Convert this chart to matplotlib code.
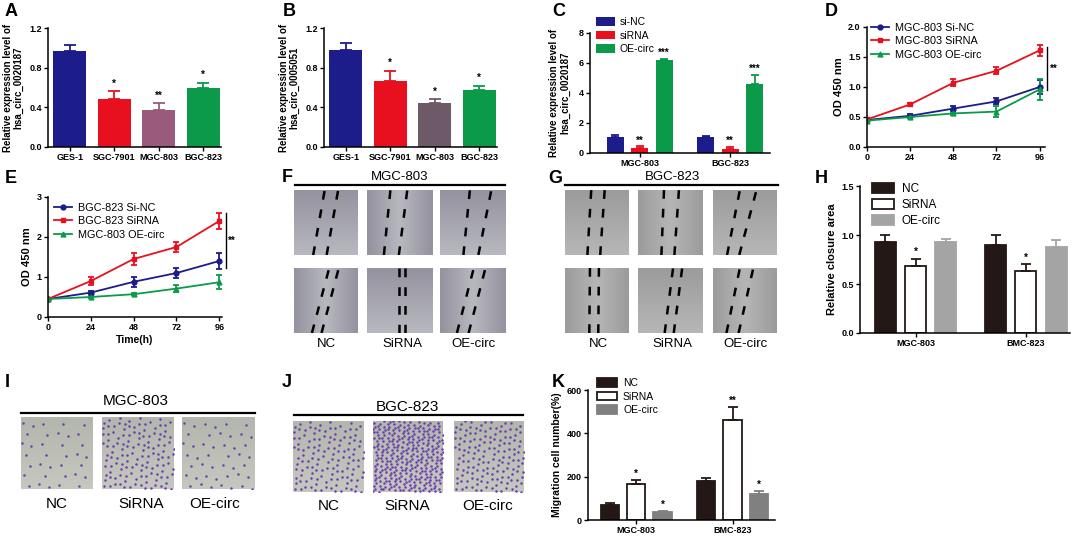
import numpy as np
import matplotlib
matplotlib.use('Agg')
import matplotlib.pyplot as plt
from matplotlib.lines import Line2D

plt.rcParams['font.family'] = ['Liberation Sans', 'DejaVu Sans']
plt.rcParams['font.weight'] = 'bold'
plt.rcParams['axes.labelweight'] = 'bold'

# %%
# Data
cell_lines = ['GES-1', 'SGC-7901', 'MGC-803', 'BGC-823']
a_vals = [0.97, 0.48, 0.37, 0.59]
a_err = [0.06, 0.08, 0.07, 0.06]
a_stars = ['', '*', '**', '*']
b_vals = [0.98, 0.67, 0.44, 0.57]
b_err = [0.07, 0.10, 0.04, 0.05]
b_stars = ['', '*', '*', '*']

c_groups = ['MGC-803', 'BGC-823']
c_series = ['si-NC', 'siRNA', 'OE-circ']
c_vals = [[1.10, 1.05], [0.35, 0.30], [6.20, 4.60]]
c_err = [[0.10, 0.08], [0.10, 0.12], [0.10, 0.60]]
c_stars = [['', ''], ['**', '**'], ['***', '***']]

hours = [0, 24, 48, 72, 96]
d_labels = ['MGC-803 Si-NC', 'MGC-803 SiRNA', 'MGC-803 OE-circ']
d_vals = [[0.45, 0.52, 0.64, 0.76, 1.00],
          [0.46, 0.71, 1.07, 1.27, 1.61],
          [0.44, 0.50, 0.56, 0.59, 0.96]]
d_err = [[0.02, 0.03, 0.04, 0.05, 0.12],
         [0.02, 0.02, 0.06, 0.06, 0.09],
         [0.02, 0.02, 0.03, 0.09, 0.18]]
e_labels = ['BGC-823 Si-NC', 'BGC-823 SiRNA', 'MGC-803 OE-circ']
e_vals = [[0.45, 0.61, 0.88, 1.10, 1.40],
          [0.45, 0.90, 1.45, 1.75, 2.40],
          [0.45, 0.50, 0.57, 0.71, 0.87]]
e_err = [[0.02, 0.03, 0.12, 0.13, 0.20],
         [0.02, 0.10, 0.15, 0.13, 0.20],
         [0.02, 0.02, 0.03, 0.08, 0.18]]

treat = ['NC', 'SiRNA', 'OE-circ']
hk_groups = ['MGC-803', 'BMC-823']
h_vals = [[0.93, 0.90], [0.68, 0.63], [0.93, 0.88]]
h_err = [[0.07, 0.10], [0.08, 0.07], [0.03, 0.07]]
h_stars = [['', ''], ['*', '*'], ['', '']]
k_vals = [[70, 178], [168, 460], [38, 118]]
k_err = [[10, 15], [15, 60], [5, 15]]
k_stars = [['', ''], ['*', '**'], ['*', '*']]

# scratch lines in wound images: (top_left, top_right, bottom_left, bottom_right) as image fractions
f_scratch = [[(0.48, 0.69, 0.30, 0.51), (0.36, 0.62, 0.26, 0.49), (0.46, 0.79, 0.36, 0.59)],
             [(0.55, 0.70, 0.28, 0.43), (0.49, 0.58, 0.49, 0.58), (0.52, 0.70, 0.26, 0.44)]]
g_scratch = [[(0.41, 0.62, 0.35, 0.55), (0.40, 0.63, 0.36, 0.56), (0.42, 0.68, 0.22, 0.41)],
             [(0.39, 0.53, 0.38, 0.52), (0.54, 0.68, 0.41, 0.55), (0.42, 0.63, 0.21, 0.40)]]
# number of stained cells drawn in transwell images
i_counts = [35, 130, 45]
j_counts = [130, 320, 150]

# %%
W, H = 1085, 536
fig = plt.figure(figsize=(W / 100, H / 100), dpi=100)

NAVY = '#1c1c8a'
RED = '#e8101e'
GREEN = '#0b9a4a'


def fx(x):
    return x / W


def fy(y):
    return 1 - y / H


def add_ax(x0, y0, x1, y1):
    return fig.add_axes([fx(x0), fy(y1), (x1 - x0) / W, (y1 - y0) / H])


def prism(ax, fs=6.5):
    for s in ['top', 'right']:
        ax.spines[s].set_visible(False)
    for s in ['left', 'bottom']:
        ax.spines[s].set_linewidth(1.1)
    ax.tick_params(direction='out', length=3, width=1, labelsize=fs, pad=1.5)


def letter(x, y, s):
    fig.text(fx(x), fy(y), s, fontsize=13, fontweight='bold', va='baseline')


def up_err(ax, x, v, e, color, lw=1.3, cap=4):
    ax.errorbar(x, v, yerr=[[0], [e]], fmt='none', ecolor=color,
                elinewidth=lw, capsize=cap, capthick=lw)


# %%
# Panels A and B
def cell_bars(box, vals, err, stars, mid_color, ylabel):
    ax = add_ax(*box)
    x = np.arange(len(vals))
    cols = [NAVY, RED, mid_color, GREEN]
    ax.bar(x, vals, width=0.75, color=cols)
    for i in x:
        up_err(ax, i, vals[i], err[i], cols[i])
        if stars[i]:
            ax.text(i, vals[i] + err[i] + 0.03, stars[i], ha='center',
                    va='bottom', fontsize=7)
    ax.set_ylim(0, 1.2)
    ax.set_yticks([0.0, 0.4, 0.8, 1.2])
    ax.set_xlim(-0.49, 3.4)
    ax.set_xticks(x)
    ax.set_xticklabels(cell_lines)
    ax.set_ylabel(ylabel, fontsize=7, labelpad=4, linespacing=1.1)
    prism(ax)
    return ax


cell_bars((48, 28, 221, 147), a_vals, a_err, a_stars, '#9a5a7c',
          'Relative expression level of\nhsa_circ_0020187')
cell_bars((324, 28, 497, 147), b_vals, b_err, b_stars, '#6d5968',
          'Relative expression level of\nhsa_circ_0005051')
letter(5, 16, 'A')
letter(283, 16, 'B')

# %%
# Panel C
axc = add_ax(590, 33, 770, 153)
c_cols = [NAVY, RED, GREEN]
gx = np.arange(len(c_groups))
for j, lab in enumerate(c_series):
    xs = gx + (j - 1) * 0.27
    axc.bar(xs, c_vals[j], width=0.19, color=c_cols[j], label=lab)
    for i in gx:
        up_err(axc, xs[i], c_vals[j][i], c_err[j][i], c_cols[j], cap=3)
        if c_stars[j][i]:
            axc.text(xs[i], c_vals[j][i] + c_err[j][i] + 0.05, c_stars[j][i],
                     ha='center', va='bottom', fontsize=7)
axc.set_ylim(0, 8)
axc.set_yticks([0, 2, 4, 6, 8])
axc.set_xlim(-0.55, 1.44)
axc.set_xticks(gx)
axc.set_xticklabels(c_groups)
axc.set_ylabel('Relative expression level of\nhsa_circ_0020187', fontsize=7,
               labelpad=6, linespacing=1.1)
prism(axc)
axc.legend(loc='upper left', bbox_to_anchor=(fx(596), fy(17)),
           bbox_transform=fig.transFigure, frameon=False,
           prop={'size': 7.5, 'weight': 'normal'}, handlelength=1.8,
           handleheight=0.9, labelspacing=0.35, handletextpad=0.5,
           borderpad=0, borderaxespad=0)
letter(552, 16, 'C')


# %%
# Panels D and E
def growth(box, vals, err, labels, ylim, yticks, xmax, brk, leg_xy):
    ax = add_ax(*box)
    cols = [NAVY, RED, GREEN]
    marks = ['o', 's', '^']
    for j in range(3):
        ax.errorbar(hours, vals[j], yerr=err[j], color=cols[j], marker=marks[j],
                    markersize=3.5, lw=1.3, elinewidth=1.3, capsize=2.5,
                    capthick=1.3, label=labels[j])
    ax.set_xlim(0, xmax)
    ax.set_xticks(hours)
    ax.set_ylim(*ylim)
    ax.set_yticks(yticks)
    ax.set_ylabel('OD 450 nm', fontsize=8, labelpad=3)
    prism(ax)
    bx, by0, by1 = brk
    ax.plot([bx, bx], [by0, by1], color='black', lw=1, clip_on=False)
    ax.text(bx + 1.5, (by0 + by1) / 2, '**', fontsize=7, va='center')
    hs = [Line2D([], [], color=cols[j], marker=marks[j], markersize=3.5, lw=1.3)
          for j in range(3)]
    ax.legend(hs, labels, loc='upper left', bbox_to_anchor=(fx(leg_xy[0]), fy(leg_xy[1])),
              bbox_transform=fig.transFigure, frameon=False,
              prop={'size': 7.8, 'weight': 'normal'}, handlelength=1.7,
              labelspacing=0.3, handletextpad=0.5, borderpad=0, borderaxespad=0)
    return ax


growth((867, 27, 1045, 147), d_vals, d_err, d_labels, (0, 2.0),
       [0.0, 0.5, 1.0, 1.5, 2.0], 99, (100, 0.95, 1.67), (871, 23))
letter(825, 16, 'D')
axe = growth((48, 197, 222, 317), e_vals, e_err, e_labels, (0, 3),
             [0, 1, 2, 3], 97.5, (99.5, 1.22, 2.6), (54, 203))
axe.set_xlabel('Time(h)', fontsize=7.5, labelpad=2)
letter(5, 183, 'E')


# %%
# Wound healing images (F, G)
def photo(box, base, light, gdir):
    ax = add_ax(*box)
    g = np.linspace(0, 1, 24)
    if gdir == 'h':
        t = np.tile(1 - np.abs(g - 0.5) * 2, (24, 1))
    else:
        t = np.tile(g[:, None], (1, 24))
    base = np.array(matplotlib.colors.to_rgb(base))
    light = np.array(matplotlib.colors.to_rgb(light))
    img = base[None, None, :] * (1 - t[..., None]) + light[None, None, :] * t[..., None]
    ax.imshow(img, extent=(0, 1, 0, 1), aspect='auto', interpolation='bilinear')
    ax.set_xlim(0, 1)
    ax.set_ylim(0, 1)
    ax.axis('off')
    return ax


def wound_panel(cols_x, rows_y, scratch, base, light, title, title_x, line, lab_xs):
    for r, (y0, y1) in enumerate(rows_y):
        for c, (x0, x1) in enumerate(cols_x):
            ax = photo((x0, y0, x1, y1), base, light, 'h' if (r + c) % 2 else 'v')
            tl, tr, bl, br = scratch[r][c]
            for xt, xb in [(tl, bl), (tr, br)]:
                ax.plot([xb, xt], [0, 1], color='black', lw=1.8,
                        linestyle=(0, (3.5, 4)))
    fig.text(fx(title_x), fy(180), title, fontsize=9.5, fontweight='normal',
             ha='center', va='baseline')
    fig.add_artist(Line2D([fx(line[0]), fx(line[1])], [fy(185.5), fy(185.5)],
                          color='black', lw=1.6, transform=fig.transFigure))
    for lx, lab in zip(lab_xs, treat):
        fig.text(fx(lx), fy(347), lab, fontsize=9.5, fontweight='normal',
                 ha='center', va='baseline')


rows_fg = [(190, 255), (268, 333)]
wound_panel([(294, 358), (367, 432), (440, 505)], rows_fg, f_scratch,
            '#94939f', '#b8b8c0', 'MGC-803', 400, (295, 505), [326, 402, 473])
wound_panel([(565, 629), (638, 703), (713, 777)], rows_fg, g_scratch,
            '#9c9c9c', '#b6b6b6', 'BGC-823', 672, (565, 778), [598, 672, 745])
letter(282, 182, 'F')
letter(548, 183, 'G')


# %%
# Panels H and K
def group_bars(box, vals, err, stars, ylim, yticks, ylabel, oe_col, xlim, leg,
               fs_leg, sstep, fs_lab):
    ax = add_ax(*box)
    gx = np.arange(2)
    cols = ['#231816', 'white', oe_col]
    ecols = ['#231816', '#231816', oe_col]
    for j, lab in enumerate(treat):
        xs = gx + (j - 1) * 0.274
        ax.bar(xs, vals[j], width=0.19, color=cols[j], edgecolor=ecols[j],
               linewidth=1.3, label=lab)
        for i in gx:
            up_err(ax, xs[i], vals[j][i], err[j][i], ecols[j], cap=3.5)
            if stars[j][i]:
                ax.text(xs[i], vals[j][i] + err[j][i] + sstep, stars[j][i],
                        ha='center', va='bottom', fontsize=7)
    ax.set_ylim(*ylim)
    ax.set_yticks(yticks)
    ax.set_xlim(*xlim)
    ax.set_xticks(gx)
    ax.set_xticklabels(hk_groups)
    ax.set_ylabel(ylabel, fontsize=fs_lab, labelpad=3)
    prism(ax)
    ax.legend(loc='upper left', bbox_to_anchor=(fx(leg[0]), fy(leg[1])),
              bbox_transform=fig.transFigure, frameon=False,
              prop={'size': fs_leg, 'weight': 'normal'}, handlelength=1.9,
              handleheight=0.9, labelspacing=0.35, handletextpad=0.6,
              borderpad=0, borderaxespad=0)
    return ax


group_bars((860, 186, 1070, 333), h_vals, h_err, h_stars, (0, 1.5),
           [0.0, 0.5, 1.0, 1.5], 'Relative closure area', '#a4a4a4',
           (-0.505, 1.40), (872, 183), 8.5, 0.02, 8)
letter(815, 183, 'H')
group_bars((588, 390, 775, 520), k_vals, k_err, k_stars, (0, 600),
           [0, 200, 400, 600], 'Migration cell number(%)', '#808080',
           (-0.5, 1.44), (597, 378), 7.5, 5, 7.5)
letter(552, 387, 'K')


# %%
# Transwell images (I, J)
def transwell(box, n, base, light):
    ax = photo(box, base, light, 'v')
    k = np.arange(1, n + 1)
    xs = (0.5 + k * 0.7548776662) % 1
    ys = (0.5 + k * 0.5698402910) % 1
    ax.plot(xs, ys, 'o', color='#6a3db0', markersize=1.8, markeredgewidth=0)


def transwell_panel(cols_x, row, counts, title, title_xy, line, lab_xs, lab_y):
    for (x0, x1), n in zip(cols_x, counts):
        transwell((x0, row[0], x1, row[1]), n, '#b3b6ac', '#c6c8c0')
    fig.text(fx(title_xy[0]), fy(title_xy[1]), title, fontsize=11,
             fontweight='normal', ha='center', va='baseline')
    fig.add_artist(Line2D([fx(line[0]), fx(line[1])], [fy(line[2]), fy(line[2])],
                          color='black', lw=1.6, transform=fig.transFigure))
    for lx, lab in zip(lab_xs, treat):
        fig.text(fx(lx), fy(lab_y), lab, fontsize=11, fontweight='normal',
                 ha='center', va='baseline')


transwell_panel([(21, 92), (102, 174), (182, 255)], (417, 489), i_counts,
                'MGC-803', (136, 405), (21, 255, 413), [57, 141, 215], 508)
transwell_panel([(293, 364), (373, 443), (454, 524)], (421, 492), j_counts,
                'BGC-823', (407, 411), (294, 523, 415), [329, 407, 488], 510)
letter(5, 387, 'I')
letter(282, 387, 'J')

plt.savefig('out.png', dpi=100)
